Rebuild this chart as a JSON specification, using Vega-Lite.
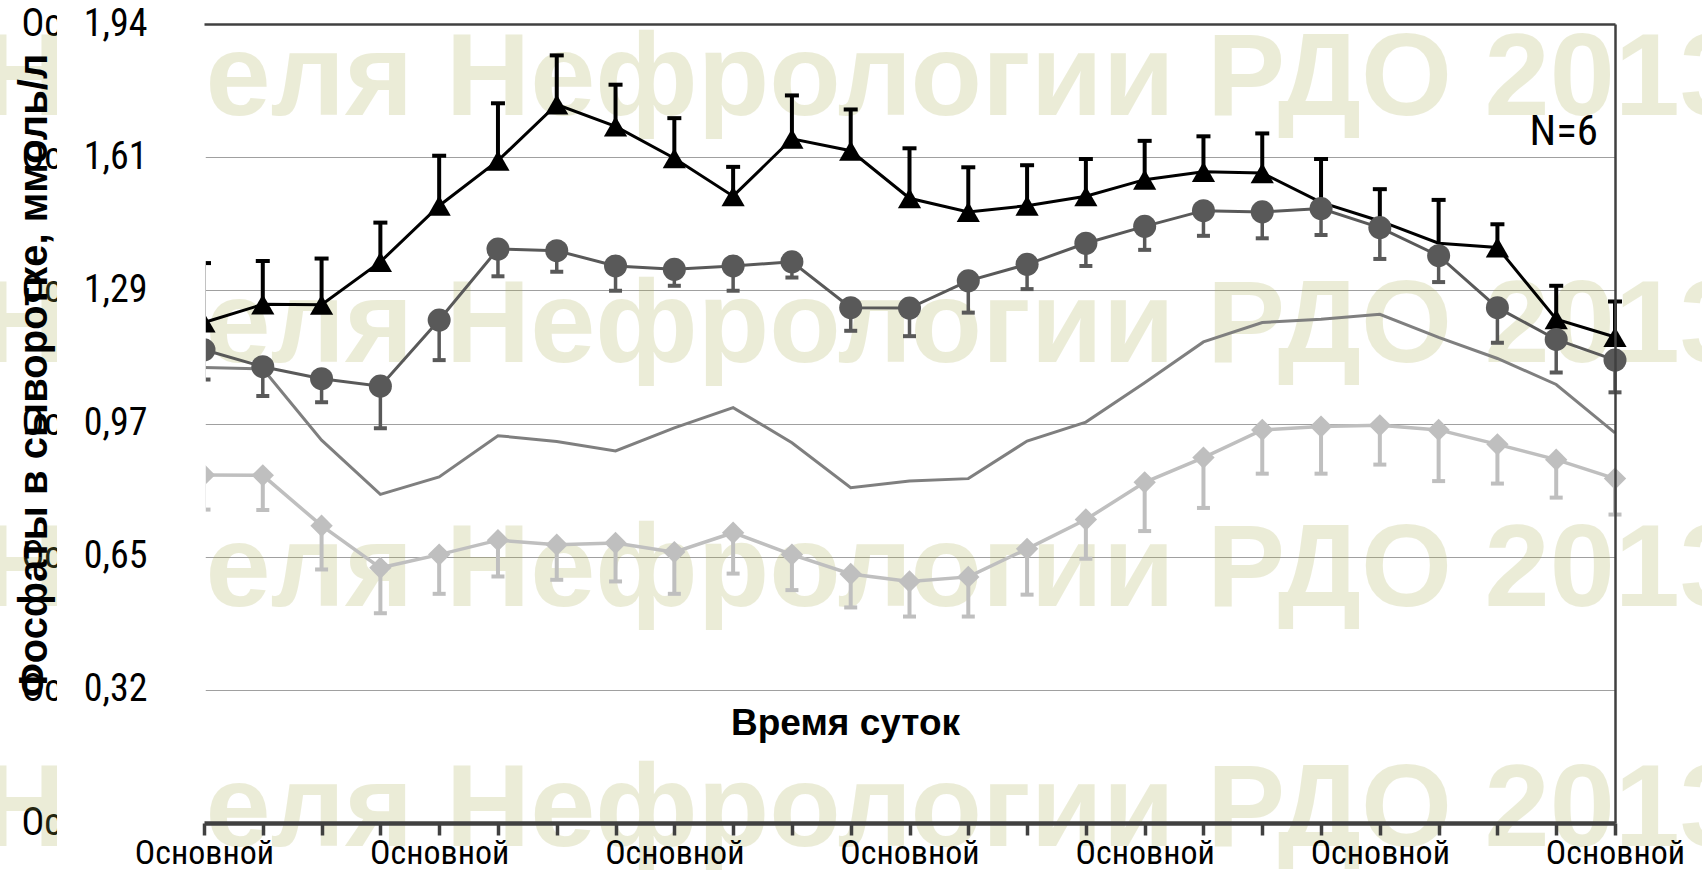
{
  "$schema": "https://vega.github.io/schema/vega-lite/v6.json",
  "width": 1411,
  "height": 799,
  "autosize": {"type": "none"},
  "padding": {"left": 204, "top": 24, "right": 87, "bottom": 53},
  "background": "white",
  "config": {"view": {"stroke": null}, "font": "Liberation Sans"},
  "data": {"values": [
    {"t": 0, "a": 1.212, "ahi": 1.356, "b": 1.146, "blo": 1.074, "c": 1.103, "d": 0.843, "dlo": 0.759},
    {"t": 1, "a": 1.256, "ahi": 1.361, "b": 1.105, "blo": 1.034, "c": 1.100, "d": 0.842, "dlo": 0.758},
    {"t": 2, "a": 1.255, "ahi": 1.367, "b": 1.076, "blo": 1.019, "c": 0.927, "d": 0.720, "dlo": 0.614},
    {"t": 3, "a": 1.359, "ahi": 1.454, "b": 1.058, "blo": 0.956, "c": 0.796, "d": 0.618, "dlo": 0.508},
    {"t": 4, "a": 1.495, "ahi": 1.616, "b": 1.218, "blo": 1.121, "c": 0.838, "d": 0.650, "dlo": 0.555},
    {"t": 5, "a": 1.604, "ahi": 1.743, "b": 1.390, "blo": 1.324, "c": 0.938, "d": 0.685, "dlo": 0.597},
    {"t": 6, "a": 1.740, "ahi": 1.859, "b": 1.386, "blo": 1.335, "c": 0.924, "d": 0.674, "dlo": 0.589},
    {"t": 7, "a": 1.687, "ahi": 1.788, "b": 1.349, "blo": 1.289, "c": 0.901, "d": 0.678, "dlo": 0.585},
    {"t": 8, "a": 1.610, "ahi": 1.707, "b": 1.341, "blo": 1.301, "c": 0.957, "d": 0.656, "dlo": 0.555},
    {"t": 9, "a": 1.518, "ahi": 1.589, "b": 1.349, "blo": 1.289, "c": 1.006, "d": 0.703, "dlo": 0.604},
    {"t": 10, "a": 1.657, "ahi": 1.762, "b": 1.359, "blo": 1.321, "c": 0.921, "d": 0.650, "dlo": 0.564},
    {"t": 11, "a": 1.628, "ahi": 1.728, "b": 1.248, "blo": 1.192, "c": 0.812, "d": 0.603, "dlo": 0.522},
    {"t": 12, "a": 1.513, "ahi": 1.634, "b": 1.247, "blo": 1.179, "c": 0.828, "d": 0.585, "dlo": 0.500},
    {"t": 13, "a": 1.480, "ahi": 1.588, "b": 1.313, "blo": 1.236, "c": 0.834, "d": 0.596, "dlo": 0.500},
    {"t": 14, "a": 1.495, "ahi": 1.593, "b": 1.353, "blo": 1.293, "c": 0.925, "d": 0.664, "dlo": 0.553},
    {"t": 15, "a": 1.518, "ahi": 1.608, "b": 1.404, "blo": 1.349, "c": 0.971, "d": 0.735, "dlo": 0.640},
    {"t": 16, "a": 1.558, "ahi": 1.652, "b": 1.445, "blo": 1.388, "c": 1.066, "d": 0.825, "dlo": 0.707},
    {"t": 17, "a": 1.577, "ahi": 1.663, "b": 1.483, "blo": 1.422, "c": 1.165, "d": 0.885, "dlo": 0.763},
    {"t": 18, "a": 1.574, "ahi": 1.670, "b": 1.480, "blo": 1.416, "c": 1.212, "d": 0.952, "dlo": 0.846},
    {"t": 19, "a": 1.503, "ahi": 1.608, "b": 1.488, "blo": 1.424, "c": 1.220, "d": 0.960, "dlo": 0.846},
    {"t": 20, "a": 1.458, "ahi": 1.535, "b": 1.442, "blo": 1.366, "c": 1.232, "d": 0.963, "dlo": 0.868},
    {"t": 21, "a": 1.404, "ahi": 1.509, "b": 1.374, "blo": 1.310, "c": 1.176, "d": 0.952, "dlo": 0.828},
    {"t": 22, "a": 1.394, "ahi": 1.450, "b": 1.248, "blo": 1.163, "c": 1.125, "d": 0.917, "dlo": 0.822},
    {"t": 23, "a": 1.220, "ahi": 1.301, "b": 1.171, "blo": 1.091, "c": 1.062, "d": 0.880, "dlo": 0.788},
    {"t": 24, "a": 1.177, "ahi": 1.263, "b": 1.121, "blo": 1.043, "c": 0.945, "d": 0.834, "dlo": 0.747}
  ]},
  "resolve": {"axis": {"x": "independent", "y": "independent"}},
  "layer": [
    {
      "data": {"values": [{}]},
      "mark": {"type": "text", "text": "Неделя Нефрологии РДО 2013", "font": "Liberation Sans", "fontWeight": "bold", "fontSize": 117, "align": "left", "baseline": "alphabetic", "color": "#a9ad4f", "opacity": 0.22},
      "encoding": {
        "x": {"datum": -3.78, "type": "quantitative", "scale": {"domain": [0, 24], "nice": false, "zero": false}, "axis": null},
        "y": {"datum": 1.715, "type": "quantitative", "scale": {"domain": [0, 1.935], "nice": false, "zero": false}, "axis": null}
      }
    },
    {
      "data": {"values": [{}]},
      "mark": {"type": "text", "text": "Неделя Нефрологии РДО 2013", "font": "Liberation Sans", "fontWeight": "bold", "fontSize": 117, "align": "left", "baseline": "alphabetic", "color": "#a9ad4f", "opacity": 0.22},
      "encoding": {
        "x": {"datum": -3.78, "type": "quantitative", "axis": null},
        "y": {"datum": 1.116, "type": "quantitative", "axis": null}
      }
    },
    {
      "data": {"values": [{}]},
      "mark": {"type": "text", "text": "Неделя Нефрологии РДО 2013", "font": "Liberation Sans", "fontWeight": "bold", "fontSize": 117, "align": "left", "baseline": "alphabetic", "color": "#a9ad4f", "opacity": 0.22},
      "encoding": {
        "x": {"datum": -3.78, "type": "quantitative", "axis": null},
        "y": {"datum": 0.526, "type": "quantitative", "axis": null}
      }
    },
    {
      "data": {"values": [{}]},
      "mark": {"type": "text", "text": "Неделя Нефрологии РДО 2013", "font": "Liberation Sans", "fontWeight": "bold", "fontSize": 117, "align": "left", "baseline": "alphabetic", "color": "#a9ad4f", "opacity": 0.22},
      "encoding": {
        "x": {"datum": -3.78, "type": "quantitative", "axis": null},
        "y": {"datum": -0.056, "type": "quantitative", "axis": null}
      }
    },
    {
      "mark": {"type": "line", "color": "#7f7f7f", "strokeWidth": 3},
      "encoding": {
        "x": {"field": "t", "type": "quantitative", "axis": null},
        "y": {"field": "c", "type": "quantitative", "axis": {"orient": "left", "grid": true, "gridColor": "#a0a0a0", "gridWidth": 1.2, "labels": false, "ticks": false, "domain": false, "title": null, "values": [0.3225, 0.645, 0.9675, 1.29, 1.6125], "zindex": 0}}
      }
    },
    {
      "mark": {"type": "line", "color": "#bfbfbf", "strokeWidth": 3.5},
      "encoding": {
        "x": {"field": "t", "type": "quantitative", "axis": null},
        "y": {"field": "d", "type": "quantitative", "axis": {"orient": "left", "grid": false, "ticks": false, "tickSize": 0, "domain": false, "title": null, "values": [0, 0.3225, 0.645, 0.9675, 1.29, 1.6125, 1.935], "labelExpr": "'Ос'", "labelAlign": "left", "labelBaseline": "middle", "labelPadding": 183, "labelFont": "'Liberation Sans Narrow', 'Roboto Condensed', 'Noto Sans Condensed', 'Liberation Sans'", "labelFontSize": 38, "labelColor": "black", "labelFlush": false, "labelOverlap": false, "zindex": 0}}
      }
    },
    {
      "mark": {"type": "rule", "color": "#bfbfbf", "strokeWidth": 4},
      "encoding": {
        "x": {"field": "t", "type": "quantitative", "axis": null},
        "y": {"field": "dlo", "type": "quantitative", "axis": null},
        "y2": {"field": "d"}
      }
    },
    {
      "mark": {"type": "tick", "orient": "horizontal", "color": "#bfbfbf", "size": 13, "thickness": 4, "opacity": 1},
      "encoding": {
        "x": {"field": "t", "type": "quantitative", "axis": null},
        "y": {"field": "dlo", "type": "quantitative", "axis": null}
      }
    },
    {
      "mark": {"type": "point", "shape": "diamond", "filled": true, "color": "#bfbfbf", "size": 500, "opacity": 1},
      "encoding": {
        "x": {"field": "t", "type": "quantitative", "axis": null},
        "y": {"field": "d", "type": "quantitative", "axis": null}
      }
    },
    {
      "mark": {"type": "line", "color": "#000000", "strokeWidth": 3},
      "encoding": {
        "x": {"field": "t", "type": "quantitative", "axis": {"orient": "bottom", "values": [0,1,2,3,4,5,6,7,8,9,10,11,12,13,14,15,16,17,18,19,20,21,22,23,24], "labelExpr": "datum.value % 4 == 0 ? 'Основной' : ''", "labelFont": "'Liberation Sans Narrow', 'Roboto Condensed', 'Noto Sans Condensed', 'Liberation Sans'", "labelFontSize": 34, "labelColor": "black", "labelBaseline": "alphabetic", "labelPadding": 28, "labelFlush": false, "labelOverlap": false, "ticks": true, "tickSize": 12, "tickWidth": 3.5, "tickColor": "#404040", "domain": true, "domainColor": "#404040", "domainWidth": 4.5, "grid": false, "title": "Время суток", "titleFont": "Liberation Sans", "titleFontWeight": "bold", "titleFontSize": 37, "titleColor": "black", "titleX": 641, "titleY": -89, "titleAlign": "center", "titleBaseline": "alphabetic", "zindex": 1}},
        "y": {"field": "a", "type": "quantitative", "axis": {"orient": "left", "grid": false, "ticks": false, "domain": false, "values": [0, 0.3225, 0.645, 0.9675, 1.29, 1.6125, 1.935], "labelExpr": "datum.value == 0 ? '' : replace(format(datum.value, '.2f'), '.', ',')", "labelFont": "'Liberation Sans Narrow', 'Roboto Condensed', 'Noto Sans Condensed', 'Liberation Sans'", "labelFontSize": 38, "labelColor": "black", "labelPadding": 57, "labelBaseline": "middle", "labelFlush": false, "labelOverlap": false, "title": "Фосфаты в сыворотке, ммоль/л", "titleFont": "Liberation Sans", "titleFontWeight": "bold", "titleFontSize": 40, "titleColor": "black", "titleAngle": 270, "titleAlign": "center", "titleBaseline": "alphabetic", "titleX": -158, "titleY": 351, "zindex": 1}}
      }
    },
    {
      "mark": {"type": "rule", "color": "#000000", "strokeWidth": 4},
      "encoding": {
        "x": {"field": "t", "type": "quantitative", "axis": null},
        "y": {"field": "a", "type": "quantitative", "axis": null},
        "y2": {"field": "ahi"}
      }
    },
    {
      "mark": {"type": "tick", "orient": "horizontal", "color": "#000000", "size": 14, "thickness": 4, "opacity": 1},
      "encoding": {
        "x": {"field": "t", "type": "quantitative", "axis": null},
        "y": {"field": "ahi", "type": "quantitative", "axis": null}
      }
    },
    {
      "transform": [{"filter": {"not": {"field": "t", "oneOf": [19, 20, 21]}}}],
      "mark": {"type": "point", "shape": "triangle-up", "filled": true, "color": "#000000", "size": 540, "opacity": 1},
      "encoding": {
        "x": {"field": "t", "type": "quantitative", "axis": null},
        "y": {"field": "a", "type": "quantitative", "axis": null}
      }
    },
    {
      "mark": {"type": "line", "color": "#595959", "strokeWidth": 3},
      "encoding": {
        "x": {"field": "t", "type": "quantitative", "axis": {"orient": "top", "domain": true, "domainColor": "#404040", "domainWidth": 2.5, "ticks": false, "labels": false, "grid": false, "title": null, "zindex": 1}},
        "y": {"field": "b", "type": "quantitative", "axis": {"orient": "right", "domain": true, "domainColor": "#404040", "domainWidth": 2.5, "ticks": false, "labels": false, "grid": false, "title": null, "zindex": 1}}
      }
    },
    {
      "mark": {"type": "rule", "color": "#595959", "strokeWidth": 3.5},
      "encoding": {
        "x": {"field": "t", "type": "quantitative", "axis": null},
        "y": {"field": "blo", "type": "quantitative", "axis": null},
        "y2": {"field": "b"}
      }
    },
    {
      "mark": {"type": "tick", "orient": "horizontal", "color": "#595959", "size": 13, "thickness": 4, "opacity": 1},
      "encoding": {
        "x": {"field": "t", "type": "quantitative", "axis": null},
        "y": {"field": "blo", "type": "quantitative", "axis": null}
      }
    },
    {
      "mark": {"type": "point", "shape": "circle", "filled": true, "color": "#595959", "size": 530, "opacity": 1},
      "encoding": {
        "x": {"field": "t", "type": "quantitative", "axis": null},
        "y": {"field": "b", "type": "quantitative", "axis": null}
      }
    },
    {
      "data": {"values": [{}]},
      "mark": {"type": "rect", "color": "white", "opacity": 1},
      "encoding": {
        "x": {"datum": -2.5, "type": "quantitative", "axis": null},
        "x2": {"datum": 0.03},
        "y": {"datum": -0.13, "type": "quantitative", "axis": null},
        "y2": {"datum": 2.0}
      }
    },
    {
      "data": {"values": [{}]},
      "mark": {"type": "text", "text": "N=6", "font": "'Liberation Sans Narrow', 'Roboto Condensed', 'Noto Sans Condensed', 'Liberation Sans'", "fontSize": 43, "align": "right", "baseline": "alphabetic", "color": "black"},
      "encoding": {
        "x": {"datum": 23.71, "type": "quantitative", "axis": null},
        "y": {"datum": 1.642, "type": "quantitative", "axis": null}
      }
    }
  ]
}
